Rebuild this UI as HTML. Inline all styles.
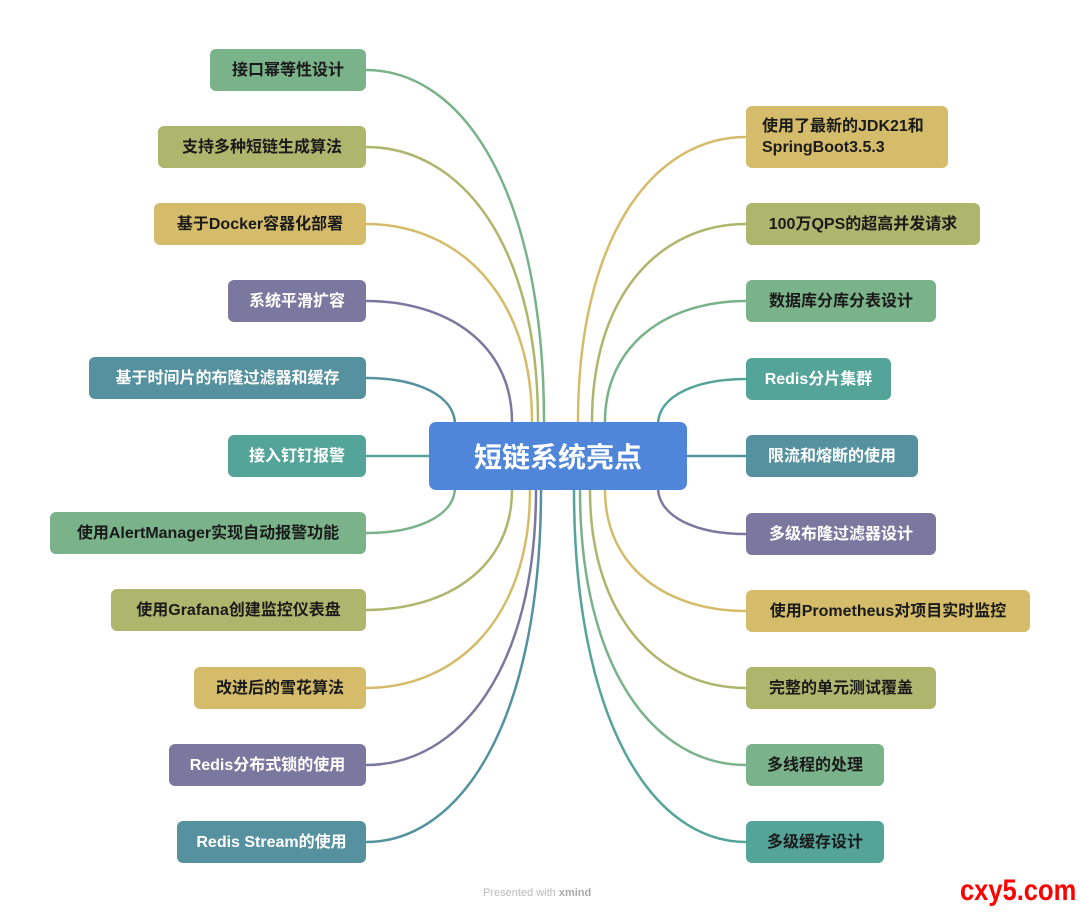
<!DOCTYPE html>
<html><head><meta charset="utf-8"><style>
body{margin:0;width:1080px;height:913px;background:#fff;position:relative;overflow:hidden;font-family:"Liberation Sans","Noto Sans CJK SC",sans-serif}
.n{position:absolute;height:42px;border-radius:6px;box-sizing:border-box;display:flex;align-items:center;justify-content:center;font-size:16px;font-weight:bold;color:#1a1a1a;white-space:nowrap;line-height:21px}
.w{color:#fff}
#c{position:absolute;left:429px;top:422px;width:258px;height:68px;background:#4f86d9;border-radius:7px;color:#fff;font-size:28px;font-weight:bold;display:flex;align-items:center;justify-content:center}
</style></head><body>
<svg id="s" width="1080" height="913" style="position:absolute;left:0;top:0" fill="none" stroke-width="2.5"></svg>
<div id="c">短链系统亮点</div>
<div style="position:absolute;left:483px;top:887px;font-size:11px;color:#bbb">Presented with <b style="color:#aaa">xmind</b></div>
<div style="position:absolute;left:960px;top:874px;font-size:30px;font-weight:bold;color:#f00;font-family:'Liberation Sans Narrow','Liberation Sans',sans-serif;transform:scaleX(0.85);transform-origin:left">cxy5.com</div>
<script>
var G='#7ab28a',O='#aeb56c',Y='#d4bc6a',P='#7b78a0',T='#55919f',T2='#55a49a';
var L=[[70,210,'接口幂等性设计',G,0,544],[147,158,'支持多种短链生成算法',O,0,538],[224,154,'基于Docker容器化部署',Y,0,532],[301,228,'系统平滑扩容',P,1,512],[378,89,'基于时间片的布隆过滤器和缓存',T,1,455],[456,228,'接入钉钉报警',T2,1,429],[533,50,'使用AlertManager实现自动报警功能',G,0,455],[610,111,'使用Grafana创建监控仪表盘',O,0,512],[688,194,'改进后的雪花算法',Y,0,530],[765,169,'Redis分布式锁的使用',P,1,536],[842,177,'Redis Stream的使用',T,1,541]];
var R=[[137,948,'使用了最新的JDK21和<br>SpringBoot3.5.3',Y,0,578,62],[224,980,'100万QPS的超高并发请求',O,0,592],[301,936,'数据库分库分表设计',G,0,605],[379,891,'Redis分片集群',T2,1,658],[456,918,'限流和熔断的使用',T,1,687],[534,936,'多级布隆过滤器设计',P,1,658],[611,1030,'使用Prometheus对项目实时监控',Y,0,605],[688,936,'完整的单元测试覆盖',O,0,590],[765,884,'多线程的处理',G,0,580],[842,884,'多级缓存设计',T2,0,574]];
var s=document.getElementById('s'),h='';
function box(x,w,y,t,c,wh,hh){hh=hh||42;var d=document.createElement('div');d.className='n'+(wh?' w':'');d.style.cssText='left:'+x+'px;width:'+w+'px;top:'+(y-hh/2)+'px;height:'+hh+'px;background:'+c+(hh>42?';justify-content:flex-start;padding-left:16px':'');d.innerHTML=t;document.body.appendChild(d);}
function path(ex,ey,sx,sy,c){var d;
 if(Math.abs(ey-456)<2){d='M'+ex+' '+ey+' L'+sx+' '+ey;}
 else{var vy=ey<456?422:490;if(sx==455||sx==658){vy=ey<456?425:487;}
 d='M'+ex+' '+ey+' C'+(ex+(sx-ex)*0.55)+' '+ey+' '+sx+' '+(ey+(vy-ey)*0.35)+' '+sx+' '+vy;}
 h+='<path d="'+d+'" stroke="'+c+'"/>';}
L.forEach(function(a){box(a[1],366-a[1],a[0],a[2],a[3],a[4]);path(366,a[0],a[5],0,a[3]);});
R.forEach(function(a){box(746,a[1]-746,a[0],a[2],a[3],a[4],a[6]);path(746,a[0],a[5],0,a[3]);});
s.innerHTML=h;
</script>
</body></html>
